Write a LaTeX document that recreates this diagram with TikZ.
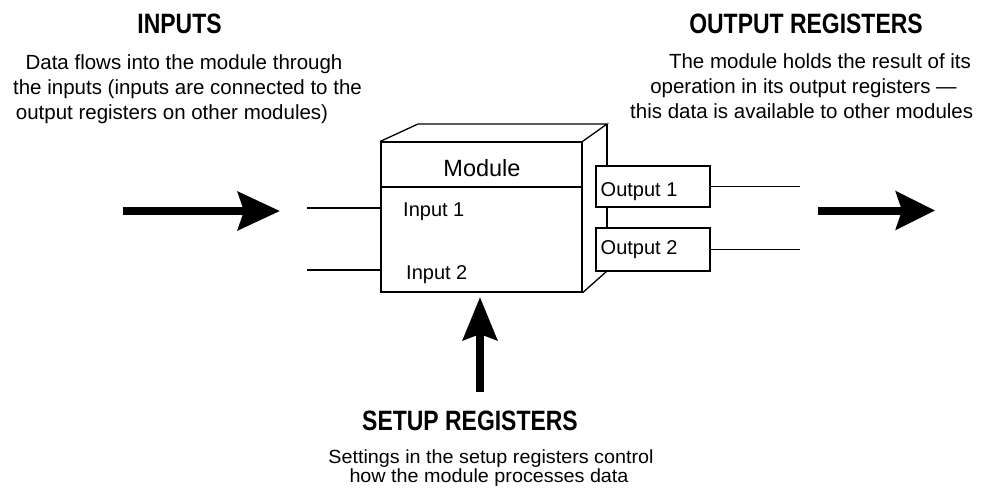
\documentclass[tikz,border=0pt]{standalone}
\usepackage{fontspec}
\setmainfont{Liberation Sans}
\newfontfamily\headfont[FakeStretch=0.82]{Liberation Sans}
\newfontfamily\setupfont[FakeStretch=1.04]{Liberation Sans}
\usetikzlibrary{arrows.meta}

\tikzset{
  body/.style={font=\fontsize{20.5}{25}\selectfont, inner sep=0pt, anchor=base},
  tight/.style={font=\setupfont\fontsize{19}{17}\selectfont, inner sep=0pt, anchor=base},
  head/.style={font=\headfont\bfseries\fontsize{28}{30}\selectfont, inner sep=0pt, anchor=base},
  label/.style={font=\fontsize{20}{24}\selectfont, inner sep=0pt, anchor=base west},
  wire/.style={line width=1.3pt},
  regbox/.style={draw, wire, fill=white, minimum width=114pt, inner sep=0pt},
  fatarrow/.style={line width=8pt, -{Stealth[length=#1, width=38pt, inset=6pt]}},
}

\begin{document}
\begin{tikzpicture}[x=1pt, y=-1pt]
\useasboundingbox (0,0) rectangle (987,491);

% headings
\node[head] (hin)  at (179.5,33) {INPUTS};
\node[head] (hout) at (806,33)   {OUTPUT REGISTERS};
\node[head] (hset) at (470,430)  {SETUP REGISTERS};

% descriptions
\node[body] (in1txt) at (184,69.5)  {Data flows into the module through};
\node[body] (in2txt) at (187.5,94.5) {the inputs (inputs are connected to the};
\node[body] (in3txt) at (172,119.5) {output registers on other modules)};

\node[body] (out1txt) at (820,68.5)   {The module holds the result of its};
\node[body] (out2txt) at (803.5,93.5) {operation in its output registers ---};
\node[body, anchor=base west] (out3txt) at (630,118.5) {this data is available to other modules};

\node[tight] (set1txt) at (491,463) {Settings in the setup registers control};
\node[tight] (set2txt) at (489,482.5) {how the module processes data};

% module block drawn as a box with depth
\coordinate (btl) at (418,124);
\coordinate (btr) at (607,124);
\coordinate (bbr) at (607,271);
\draw[wire] (btr) -- (bbr);
\node[draw, wire, minimum width=201pt, minimum height=150pt, inner sep=0pt] (front) at (481.5,217) {};
\draw[wire] (front.north west) -- (btl) -- (btr) -- (front.north east);
\draw[wire] (front.south east) -- (bbr);
\draw[wire] (front.west |- 0,187) -- (front.east |- 0,187);

\node[font=\fontsize{23.5}{26}\selectfont, inner sep=0pt, anchor=base] (modname) at (482,176) {Module};
\node[label] (lin1) at (403,216) {Input 1};
\node[label] (lin2) at (406,279) {Input 2};

% output registers
\node[regbox, minimum height=41pt] (o1) at (653,186.5) {};
\node[regbox, minimum height=43pt] (o2) at (653,249.5) {};
\node[label] (lo1) at (600.5,196) {Output 1};
\node[label] (lo2) at (600.5,254.5) {Output 2};

% input wires
\coordinate (i1) at (307,208);
\coordinate (i2) at (307,270);
\draw[wire] (i1) -- (i1 -| front.west);
\draw[wire] (i2) -- (i2 -| front.west);

% output wires
\coordinate (e1) at (800,186.5);
\coordinate (e2) at (800,249.5);
\draw[wire] (o1.east) -- (e1);
\draw[wire] (o2.east) -- (e2);

% flow arrows
\coordinate (la0) at (123,211);
\coordinate (la1) at (280,211);
\draw[fatarrow=42pt] (la0) -- (la1);

\coordinate (ra0) at (818,210.5);
\coordinate (ra1) at (935,210.5);
\draw[fatarrow=39pt] (ra0) -- (ra1);

\coordinate (ua0) at (480,392);
\coordinate (ua1) at (480,297);
\draw[line width=8pt, -{Stealth[length=43pt, width=34pt, inset=6pt]}] (ua0) -- (ua1);
\end{tikzpicture}
\end{document}
